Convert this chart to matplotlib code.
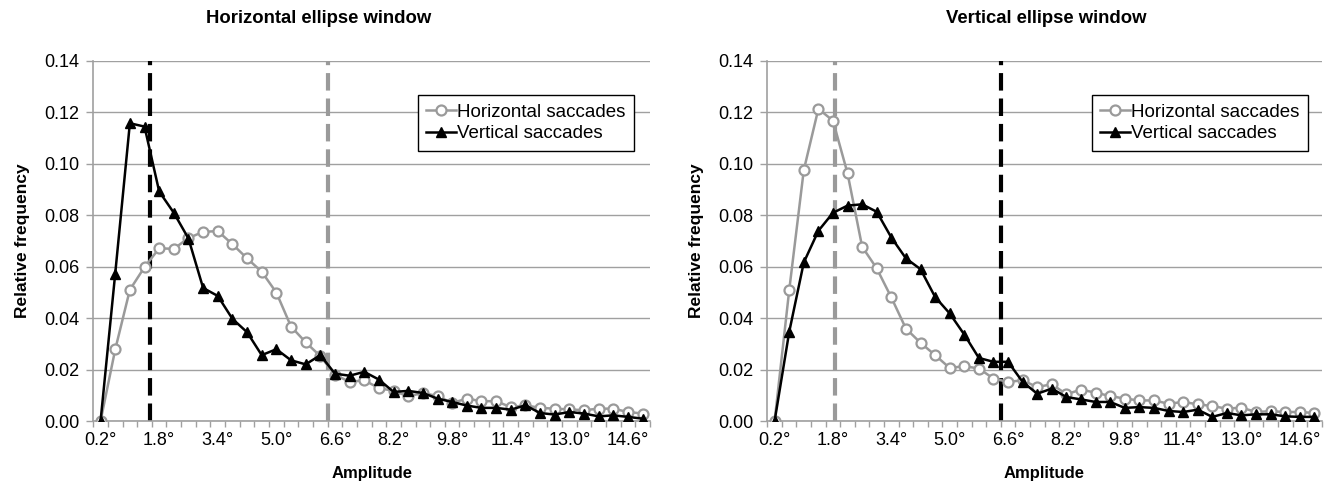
import numpy as np
import matplotlib
matplotlib.use("Agg")
import matplotlib.pyplot as plt

plt.rcParams['font.family'] = ['Liberation Sans', 'DejaVu Sans']

# amplitude bins (degrees), one category per bin
amplitudes = [0.2, 0.6, 1.0, 1.4, 1.8, 2.2, 2.6, 3.0, 3.4, 3.8, 4.2, 4.6, 5.0,
              5.4, 5.8, 6.2, 6.6, 7.0, 7.4, 7.8, 8.2, 8.6, 9.0, 9.4, 9.8,
              10.2, 10.6, 11.0, 11.4, 11.8, 12.2, 12.6, 13.0, 13.4, 13.8,
              14.2, 14.6, 15.0]

# horizontal ellipse window
hw_horiz = [0.0, 0.0278, 0.0510, 0.0598, 0.0671, 0.0669, 0.0711, 0.0735,
            0.0738, 0.0687, 0.0632, 0.0580, 0.0499, 0.0367, 0.0306, 0.0252,
            0.0180, 0.0152, 0.0158, 0.0128, 0.0117, 0.0096, 0.0109, 0.0097,
            0.0070, 0.0087, 0.0077, 0.0077, 0.0054, 0.0061, 0.0051, 0.0048,
            0.0045, 0.0042, 0.0048, 0.0048, 0.0035, 0.0029]
hw_vert = [0.0, 0.0573, 0.1157, 0.1144, 0.0892, 0.0809, 0.0709, 0.0517,
           0.0486, 0.0397, 0.0345, 0.0256, 0.0279, 0.0236, 0.0220, 0.0256,
           0.0184, 0.0176, 0.0191, 0.0161, 0.0113, 0.0117, 0.0109, 0.0087,
           0.0074, 0.0060, 0.0051, 0.0051, 0.0044, 0.0061, 0.0031, 0.0025,
           0.0035, 0.0029, 0.0018, 0.0022, 0.0016, 0.0009]

# vertical ellipse window
vw_horiz = [0.0, 0.0508, 0.0975, 0.1213, 0.1167, 0.0962, 0.0677, 0.0593,
            0.0480, 0.0359, 0.0304, 0.0256, 0.0206, 0.0213, 0.0204, 0.0165,
            0.0152, 0.0158, 0.0132, 0.0143, 0.0104, 0.0122, 0.0110, 0.0097,
            0.0087, 0.0080, 0.0080, 0.0067, 0.0074, 0.0065, 0.0058, 0.0048,
            0.0052, 0.0035, 0.0038, 0.0035, 0.0035, 0.0031]
vw_vert = [0.0, 0.0346, 0.0616, 0.0739, 0.0809, 0.0837, 0.0842, 0.0813,
           0.0713, 0.0632, 0.0590, 0.0482, 0.0418, 0.0336, 0.0245, 0.0230,
           0.0230, 0.0152, 0.0106, 0.0126, 0.0093, 0.0084, 0.0074, 0.0074,
           0.0051, 0.0054, 0.0051, 0.0039, 0.0035, 0.0044, 0.0016, 0.0031,
           0.0022, 0.0026, 0.0026, 0.0018, 0.0016, 0.0016]

# window limits, in category units (black = vertical, gray = horizontal)
hw_limits = {'black': 3.37, 'gray': 15.5}
vw_limits = {'black': 15.5, 'gray': 4.14}

GRAY = '#9a9a9a'
AXIS = '#a0a0a0'


def draw_panel(ax, horiz, vert, limits, legend_x):
    x = np.arange(len(amplitudes))
    ax.axvline(limits['gray'], color=GRAY, lw=3.0, dashes=(4.2, 1.9), zorder=1.5)
    ax.axvline(limits['black'], color='black', lw=3.0, dashes=(4.2, 1.9), zorder=1.5)
    ax.plot(x, horiz, color=GRAY, lw=1.8, marker='o', ms=7.2, mfc='white',
            mec=GRAY, mew=1.6, label='Horizontal saccades', zorder=3)
    ax.plot(x, vert, color='black', lw=1.8, marker='^', ms=7.5, mfc='black',
            mec='black', label='Vertical saccades', zorder=4)

    ax.set_xlim(-0.5, len(amplitudes) - 0.5)
    ax.set_ylim(0, 0.14)
    yt = np.arange(0, 0.141, 0.02)
    ax.set_yticks(yt)
    ax.set_yticklabels(['%.2f' % v for v in yt])
    ax.yaxis.grid(True, color=AXIS, lw=1.0)
    ax.set_axisbelow(True)

    # ticks between categories, labels on every 4th category
    ax.set_xticks(np.arange(-0.5, len(amplitudes), 1.0))
    ax.set_xticklabels([])
    lab_pos = x[::4][:10]
    ax.set_xticks(lab_pos, minor=True)
    ax.set_xticklabels(['%.1f°' % amplitudes[i] for i in lab_pos], minor=True)
    ax.tick_params(axis='x', which='major', length=4, color=AXIS, width=1)
    ax.tick_params(axis='x', which='minor', length=0, pad=8, labelsize=13)
    ax.tick_params(axis='y', length=5, color=AXIS, width=1, labelsize=13, pad=5)

    for s in ['top', 'right']:
        ax.spines[s].set_visible(False)
    for s in ['left', 'bottom']:
        ax.spines[s].set_color(AXIS)
        ax.spines[s].set_linewidth(1.2)

    ax.set_xlabel('Amplitude', fontweight='bold', fontsize=12, labelpad=12)
    ax.set_ylabel('Relative frequency', fontweight='bold', fontsize=12.5, labelpad=10)

    leg = ax.legend(loc='upper right', bbox_to_anchor=(legend_x, 0.905),
                    fontsize=13.5, fancybox=False, framealpha=1, edgecolor='black',
                    handlelength=1.6, handletextpad=0.05, borderpad=0.45,
                    labelspacing=0.25, borderaxespad=0)
    leg.get_frame().set_linewidth(1.0)


fig = plt.figure(figsize=(13.34, 4.92), dpi=100)
ax1 = fig.add_axes([0.0699, 0.1443, 0.4173, 0.7323])
ax2 = fig.add_axes([0.5752, 0.1443, 0.4156, 0.7323])

draw_panel(ax1, hw_horiz, hw_vert, hw_limits, 0.971)
draw_panel(ax2, vw_horiz, vw_vert, vw_limits, 0.975)

fig.text(0.2385, 0.962, 'Horizontal ellipse window', ha='center', va='center',
         fontweight='bold', fontsize=13.3)
fig.text(0.784, 0.962, 'Vertical ellipse window', ha='center', va='center',
         fontweight='bold', fontsize=13.3)

fig.savefig('out.png', dpi=100)
